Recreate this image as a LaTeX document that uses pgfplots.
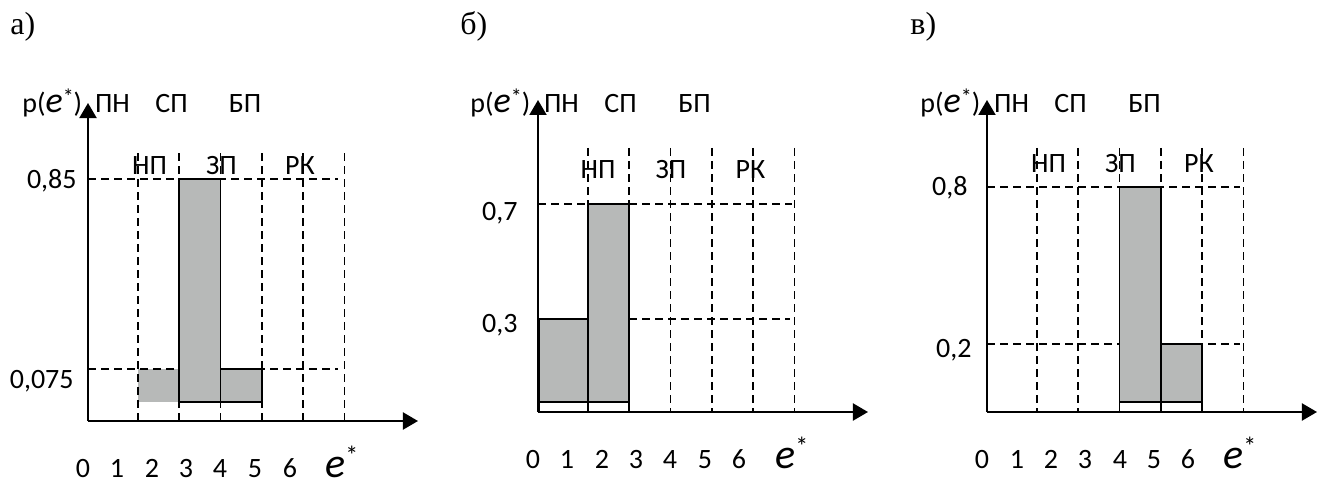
\documentclass[border=0pt]{standalone}
\usepackage{pgfplots}
\pgfplotsset{compat=1.18}
\usetikzlibrary{arrows.meta}
\usepackage{fontspec}
\setmainfont{Carlito}
\newfontfamily\tnr{Liberation Serif}
\definecolor{barfill}{RGB}{183,185,184}
\newcommand\fs[1]{\fontsize{#1}{#1}\selectfont}
\newcommand\pe{p(\fs{18}\itshape e\raisebox{0.22em}{\fs{11}\upshape *}\fs{14}\upshape)}
\newcommand\estar{\fs{21}\itshape e\raisebox{0.3em}{\fs{13}\upshape *}}
\pgfplotsset{
 panel/.style={x=20.65pt, y=0.5pt, xmin=-0.21, xmax=7.78, ymin=0,
   axis x line=bottom, axis y line=left,
   axis line style={line width=1pt, -{Triangle[length=7.5pt,width=8.5pt]}},
   xtick=\empty, ytick=\empty, clip=false, anchor=south west},
 vd/.style={black, line width=0.9pt, dash pattern=on 4pt off 2.5pt},
 hd/.style={black, line width=0.8pt, dash pattern=on 4pt off 2.5pt},
 bar/.style={fill=barfill, draw=black, line width=0.8pt},
 strip/.style={draw=black, line width=0.8pt}
}
\begin{document}
\begin{tikzpicture}[x=0.5pt,y=0.5pt]
\useasboundingbox (0,0) rectangle (1317,483);
% ---------------- panel a
\begin{axis}[panel, at={(44pt,31pt)}, ymax=318]
\addplot[fill=barfill, draw=none] coordinates {(1,19) (2,19) (2,52) (1,52)} -- cycle;
\addplot[hd] coordinates {(-0.21,242) (5.84,242)};
\addplot[hd] coordinates {(-0.21,52) (5.84,52)};
\addplot[vd] coordinates {(1,268) (1,0)};
\addplot[vd] coordinates {(2,268) (2,0)};
\addplot[vd] coordinates {(3,268) (3,0)};
\addplot[vd] coordinates {(4,268) (4,0)};
\addplot[vd] coordinates {(5,268) (5,0)};
\addplot[vd] coordinates {(6,268) (6,0)};
\addplot[bar] coordinates {(2,19) (3,19) (3,242) (2,242)} -- cycle;
\addplot[bar] coordinates {(3,19) (4,19) (4,52) (3,52)} -- cycle;
\end{axis}
% ---------------- panel b
\begin{axis}[panel, at={(269pt,35.5pt)}, ymax=312]
\addplot[hd] coordinates {(-0.21,208) (5.94,208)};
\addplot[hd] coordinates {(-0.21,93) (5.9,93)};
\addplot[vd] coordinates {(1,264) (1,0)};
\addplot[vd] coordinates {(2,264) (2,0)};
\addplot[vd] coordinates {(3,264) (3,0)};
\addplot[vd] coordinates {(4,264) (4,0)};
\addplot[vd] coordinates {(5,264) (5,0)};
\addplot[vd] coordinates {(6,264) (6,0)};
\addplot[bar] coordinates {(-0.17,10) (1,10) (1,93) (-0.17,93)} -- cycle;
\addplot[bar] coordinates {(1,10) (2,10) (2,208) (1,208)} -- cycle;
\addplot[strip] coordinates {(-0.17,0) (-0.17,10) (1,10) (1,0)};
\addplot[strip] coordinates {(1,10) (2,10) (2,0)};
\end{axis}
% ---------------- panel v
\begin{axis}[panel, at={(493.5pt,35.5pt)}, ymax=312]
\addplot[hd] coordinates {(-0.21,225) (5.92,225)};
\addplot[hd] coordinates {(-0.21,68) (5.92,68)};
\addplot[vd] coordinates {(1,264) (1,0)};
\addplot[vd] coordinates {(2,264) (2,0)};
\addplot[vd] coordinates {(3,264) (3,0)};
\addplot[vd] coordinates {(4,264) (4,0)};
\addplot[vd] coordinates {(5,264) (5,0)};
\addplot[vd] coordinates {(6,264) (6,0)};
\addplot[bar] coordinates {(3,10) (4,10) (4,225) (3,225)} -- cycle;
\addplot[bar] coordinates {(4,10) (5,10) (5,68) (4,68)} -- cycle;
\addplot[strip] coordinates {(3,0) (3,10) (4,10) (4,0)};
\addplot[strip] coordinates {(4,10) (5,10) (5,0)};
\end{axis}
% ---------------- texts (pixel coordinates, y downward)
\begin{scope}[shift={(0,483)}, y=-0.5pt]
\tikzset{every node/.style={inner sep=0pt, font=\fs{14}}}
% panel labels
\node[anchor=base west, font=\tnr\fs{16}] at (10,35) {а)};
\node[anchor=base west, font=\tnr\fs{16}] at (460,35) {б)};
\node[anchor=base west, font=\tnr\fs{16}] at (910,35) {в)};
% p(e*)
\node[anchor=base west] at (22,112) {\pe};
\node[anchor=base west] at (470,112) {\pe};
\node[anchor=base west] at (920,112) {\pe};
% row 1
\node[anchor=base] at (112.5,112) {ПН};
\node[anchor=base] at (171.5,112) {СП};
\node[anchor=base] at (245,112) {БП};
\node[anchor=base] at (561.5,112) {ПН};
\node[anchor=base] at (620.5,112) {СП};
\node[anchor=base] at (694.5,112) {БП};
\node[anchor=base] at (1011.5,112) {ПН};
\node[anchor=base] at (1070.5,112) {СП};
\node[anchor=base] at (1144.5,112) {БП};
% row 2
\node[anchor=base] at (149.5,175) {НП};
\node[anchor=base] at (221.5,175) {ЗП};
\node[anchor=base] at (300,175) {РК};
\node[anchor=base] at (598,178) {НП};
\node[anchor=base] at (671,178) {ЗП};
\node[anchor=base] at (750.5,178) {РК};
\node[anchor=base] at (1048.5,172) {НП};
\node[anchor=base] at (1120.5,172) {ЗП};
\node[anchor=base] at (1199,172) {РК};
% y labels
\node[anchor=base east] at (77,188) {0,85};
\node[anchor=base east] at (74,388) {0,075};
\node[anchor=base east] at (518,220) {0,7};
\node[anchor=base east] at (518,332) {0,3};
\node[anchor=base east] at (968,195) {0,8};
\node[anchor=base east] at (972,357) {0,2};
% x digit rows
\node[anchor=base] at (83,477) {0};
\node[anchor=base] at (117,477) {1};
\node[anchor=base] at (152,477) {2};
\node[anchor=base] at (186,477) {3};
\node[anchor=base] at (220,477) {4};
\node[anchor=base] at (255,477) {5};
\node[anchor=base] at (290,477) {6};
\node[anchor=base west] at (325,477) {\estar};
\node[anchor=base] at (533,468) {0};
\node[anchor=base] at (567,468) {1};
\node[anchor=base] at (602,468) {2};
\node[anchor=base] at (636,468) {3};
\node[anchor=base] at (670,468) {4};
\node[anchor=base] at (705,468) {5};
\node[anchor=base] at (739,468) {6};
\node[anchor=base west] at (775,468) {\estar};
\node[anchor=base] at (982,468) {0};
\node[anchor=base] at (1017,468) {1};
\node[anchor=base] at (1051,468) {2};
\node[anchor=base] at (1085,468) {3};
\node[anchor=base] at (1120,468) {4};
\node[anchor=base] at (1154,468) {5};
\node[anchor=base] at (1188,468) {6};
\node[anchor=base west] at (1223,468) {\estar};
\end{scope}
\end{tikzpicture}
\end{document}
